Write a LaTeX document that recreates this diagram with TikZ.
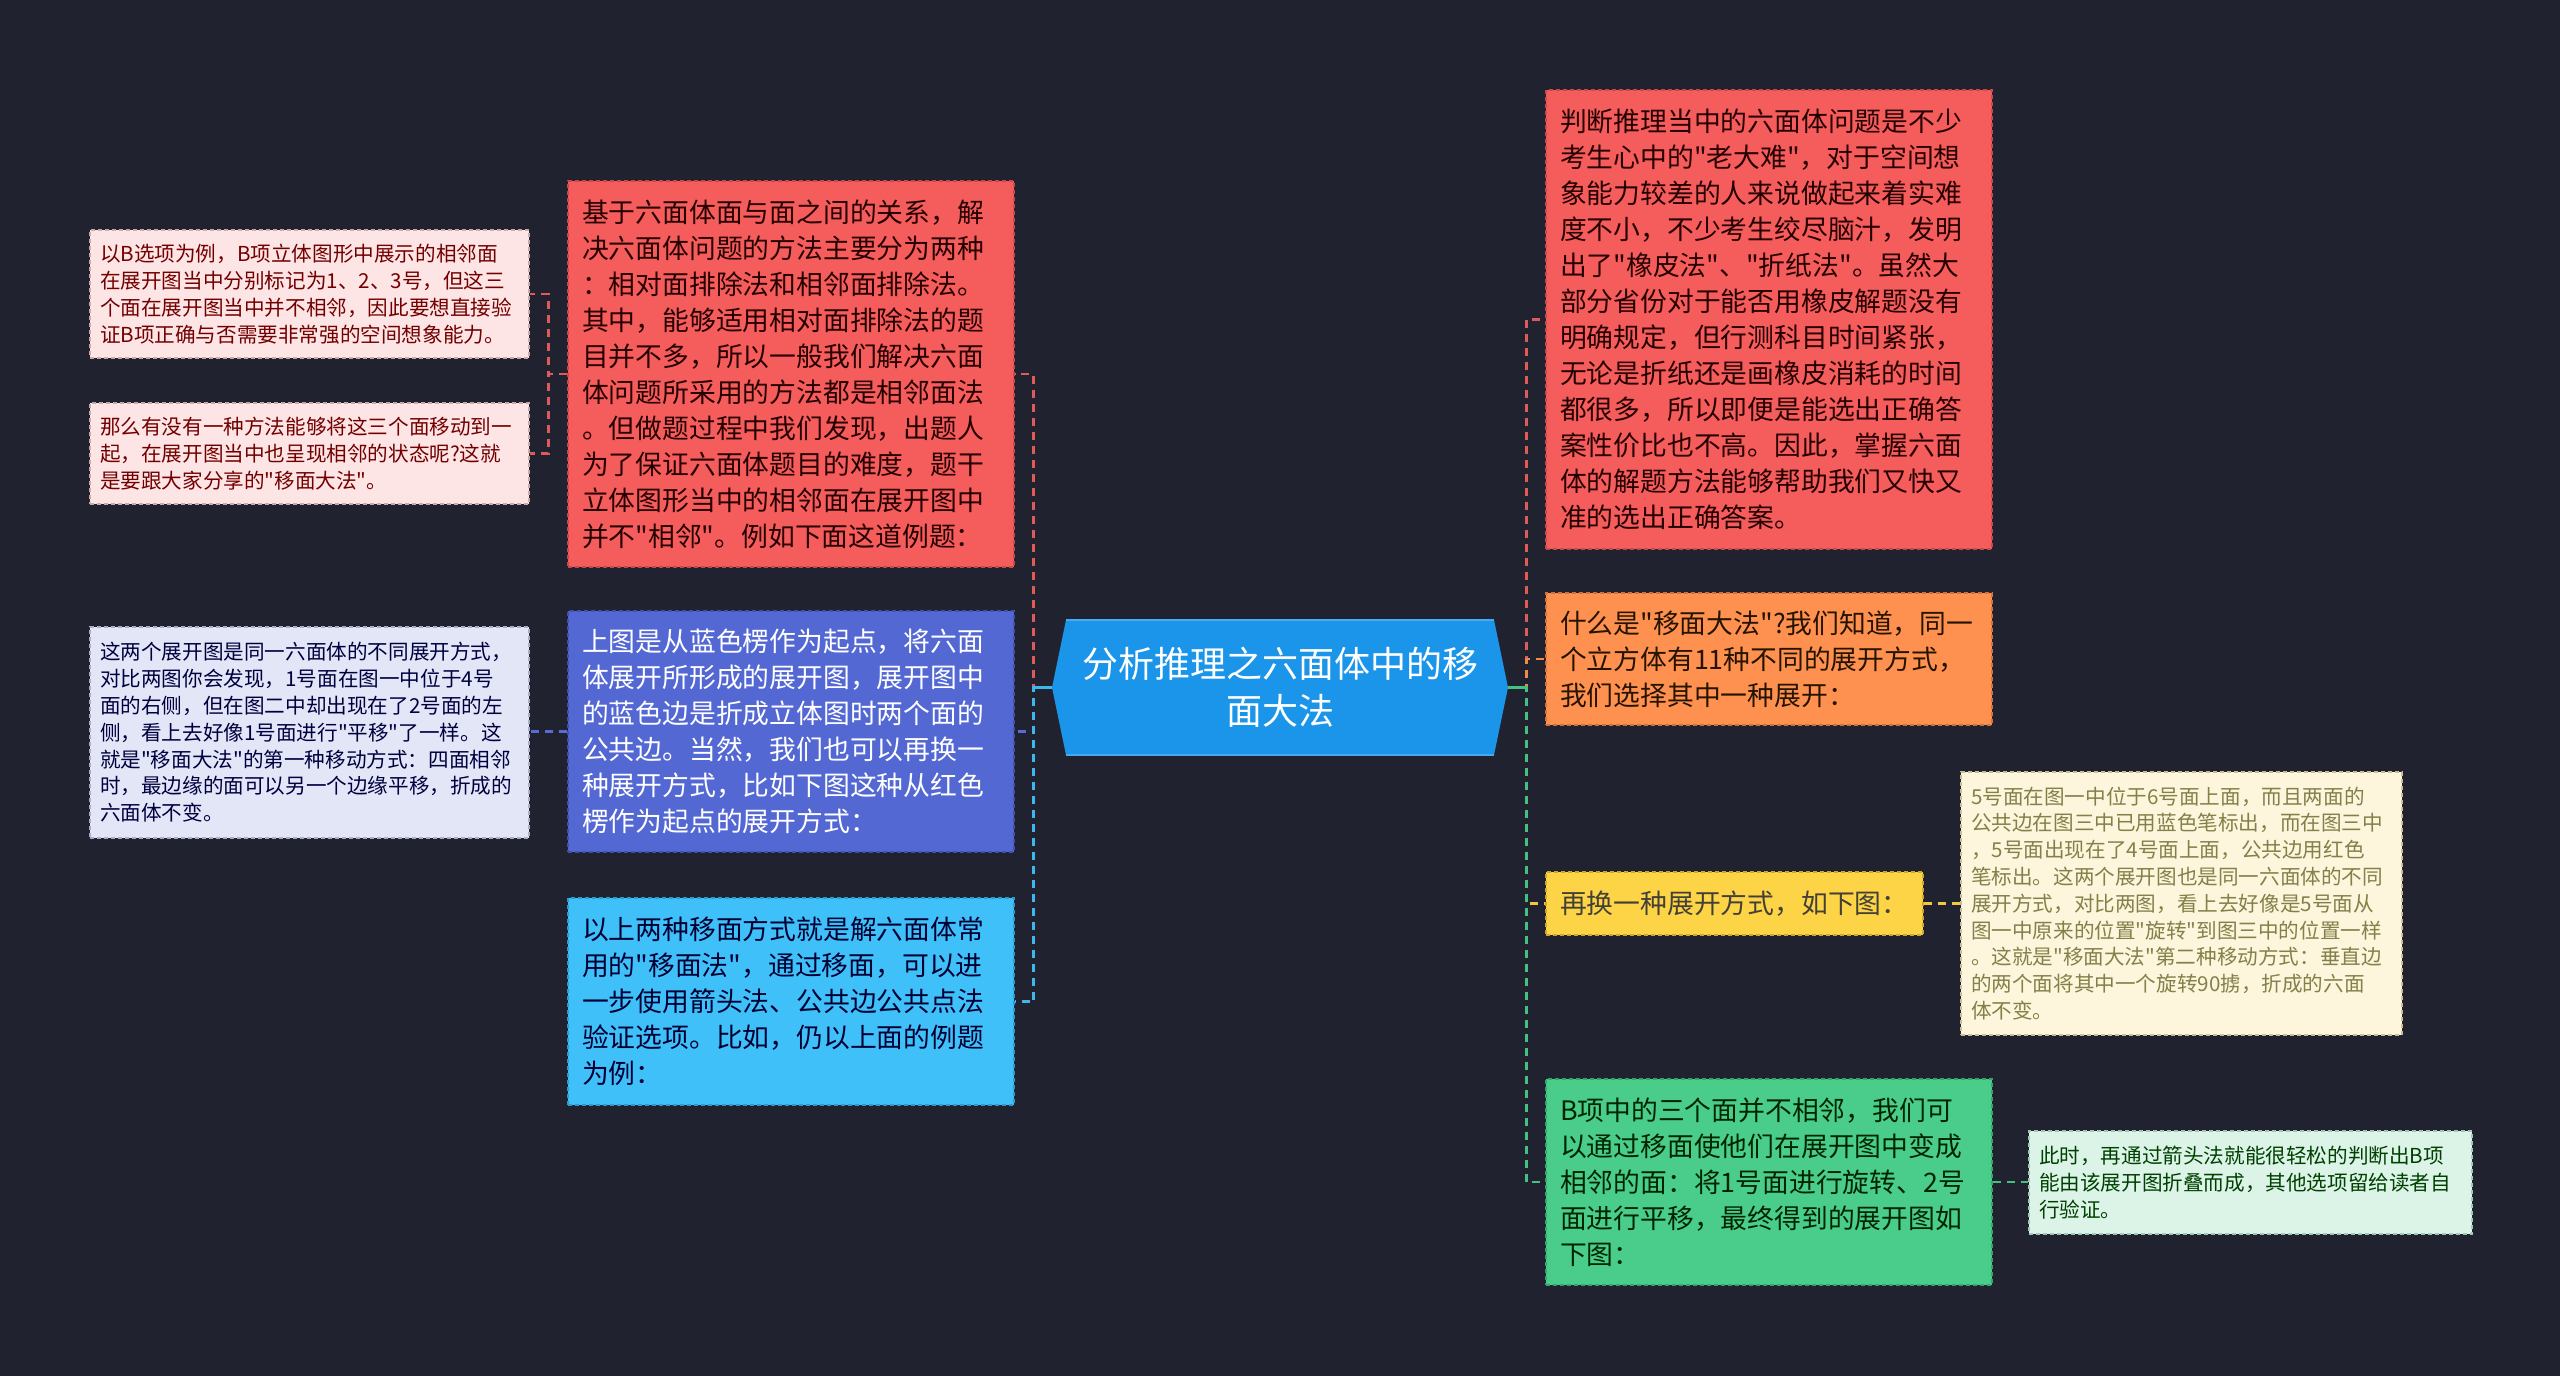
\documentclass[tikz,border=0pt]{standalone}
\usepackage{fontspec}
\setmainfont{Noto Sans CJK SC}[Ligatures=TeXOff]
\usetikzlibrary{calc}
\definecolor{bg}{HTML}{20232F}
\definecolor{cfill}{HTML}{1B95EA}
\definecolor{cedge}{HTML}{48AAF0}
\definecolor{redf}{HTML}{F55C5C}
\definecolor{rede}{HTML}{C94848}
\definecolor{bluef}{HTML}{5468D4}
\definecolor{bluee}{HTML}{3F50B0}
\definecolor{cyanf}{HTML}{3FC0F8}
\definecolor{cyane}{HTML}{2C9BD0}
\definecolor{orangef}{HTML}{FE9150}
\definecolor{orangee}{HTML}{D27238}
\definecolor{yellowf}{HTML}{FDD446}
\definecolor{yellowe}{HTML}{CFA82A}
\definecolor{greenf}{HTML}{4ACD8B}
\definecolor{greene}{HTML}{33A66C}
\definecolor{pinkf}{HTML}{FEE5E5}
\definecolor{pinke}{HTML}{C9A9A9}
\definecolor{lavf}{HTML}{E3E6F7}
\definecolor{lave}{HTML}{A9ADC6}
\definecolor{creamf}{HTML}{FDF6DC}
\definecolor{creame}{HTML}{C9BE96}
\definecolor{mintf}{HTML}{DCF4E8}
\definecolor{minte}{HTML}{A2C6B4}
\definecolor{credc}{HTML}{E05A5A}
\definecolor{cbluec}{HTML}{5B6BD6}
\definecolor{ccyanc}{HTML}{3EB8EA}
\definecolor{corangec}{HTML}{F08A48}
\definecolor{cyellowc}{HTML}{F2C840}
\definecolor{cgreenc}{HTML}{45C083}
\begin{document}
\begin{tikzpicture}[x=0.5pt,y=-0.5pt,
  box/.style={rectangle, draw, dashed, dash pattern=on 2pt off 1.5pt, line width=0.6pt,
    align=left, inner xsep=7pt, inner ysep=0pt, text width=209pt, minimum width=223pt,
    font=\fontsize{13.4}{18}\selectfont},
  leaf/.style={box, inner xsep=5pt, font=\fontsize{10.3}{13.4}\selectfont},
  conn/.style={dashed, dash pattern=on 4pt off 3pt, line width=1.2pt}]
\useasboundingbox (0,0) rectangle (2560,1376);
\fill[bg] (0,0) rectangle (2560,1376);
% central hexagon
\fill[cfill] (1052,687.5) -- (1066,620) -- (1494,620) -- (1508,687.5) -- (1494,755) -- (1066,755) -- cycle;
\draw[cedge, line width=1pt] (1066,620) -- (1494,620);
\draw[cedge, line width=1pt] (1066,755) -- (1494,755);
\node[text=white, align=center, minimum width=228pt, minimum height=67.5pt, inner sep=0pt,
  font=\fontsize{18}{23.5}\selectfont] (C) at (1280,687.5) {分析推理之六面体中的移\\面大法};
% left main boxes
\node[box, fill=redf, draw=rede, text=black!85!red, minimum height=193pt] (L1) at (791,374) {基于六面体面与面之间的关系，解\\决六面体问题的方法主要分为两种\\：相对面排除法和相邻面排除法。\\其中，能够适用相对面排除法的题\\目并不多，所以一般我们解决六面\\体问题所采用的方法都是相邻面法\\。但做题过程中我们发现，出题人\\为了保证六面体题目的难度，题干\\立体图形当中的相邻面在展开图中\\并不"相邻"。例如下面这道例题：};
\node[box, fill=bluef, draw=bluee, text=white, minimum height=120.5pt] (L2) at (791,731.5) {上图是从蓝色楞作为起点，将六面\\体展开所形成的展开图，展开图中\\的蓝色边是折成立体图时两个面的\\公共边。当然，我们也可以再换一\\种展开方式，比如下图这种从红色\\楞作为起点的展开方式：};
\node[box, fill=cyanf, draw=cyane, text=black!80!blue, minimum height=103.5pt] (L3) at (791,1001.5) {以上两种移面方式就是解六面体常\\用的"移面法"，通过移面，可以进\\一步使用箭头法、公共边公共点法\\验证选项。比如，仍以上面的例题\\为例：};
% left leaves
\node[leaf, fill=pinkf, draw=pinke, text=red!45!black, minimum width=219.5pt, text width=209.5pt, minimum height=64pt] (LL1) at (309.5,294) {以B选项为例，B项立体图形中展示的相邻面\\在展开图当中分别标记为1、2、3号，但这三\\个面在展开图当中并不相邻，因此要想直接验\\证B项正确与否需要非常强的空间想象能力。};
\node[leaf, fill=pinkf, draw=pinke, text=red!45!black, minimum width=219.5pt, text width=209.5pt, minimum height=50.5pt] (LL2) at (309.5,453.5) {那么有没有一种方法能够将这三个面移动到一\\起，在展开图当中也呈现相邻的状态呢?这就\\是要跟大家分享的"移面大法"。};
\node[leaf, fill=lavf, draw=lave, text=blue!25!black, minimum width=219.5pt, text width=209.5pt, minimum height=105.5pt] (LL3) at (309.5,732.5) {这两个展开图是同一六面体的不同展开方式，\\对比两图你会发现，1号面在图一中位于4号\\面的右侧，但在图二中却出现在了2号面的左\\侧，看上去好像1号面进行"平移"了一样。这\\就是"移面大法"的第一种移动方式：四面相邻\\时，最边缘的面可以另一个边缘平移，折成的\\六面体不变。};
% right main boxes
\node[box, fill=redf, draw=rede, text=black!85!red, minimum height=229.5pt] (R1) at (1769,319.5) {判断推理当中的六面体问题是不少\\考生心中的"老大难"，对于空间想\\象能力较差的人来说做起来着实难\\度不小，不少考生绞尽脑汁，发明\\出了"橡皮法"、"折纸法"。虽然大\\部分省份对于能否用橡皮解题没有\\明确规定，但行测科目时间紧张，\\无论是折纸还是画橡皮消耗的时间\\都很多，所以即便是能选出正确答\\案性价比也不高。因此，掌握六面\\体的解题方法能够帮助我们又快又\\准的选出正确答案。};
\node[box, fill=orangef, draw=orangee, text=black!85!orange, minimum height=66pt] (R2) at (1769,659) {什么是"移面大法"?我们知道，同一\\个立方体有11种不同的展开方式，\\我们选择其中一种展开：};
\node[box, fill=yellowf, draw=yellowe, text=black!85!yellow, minimum width=188.5pt, text width=174.5pt, minimum height=31.5pt] (R3) at (1734.5,903.5) {再换一种展开方式，如下图：};
\node[box, fill=greenf, draw=greene, text=black!85!green, minimum height=103pt] (R4) at (1769,1182) {B项中的三个面并不相邻，我们可\\以通过移面使他们在展开图中变成\\相邻的面：将1号面进行旋转、2号\\面进行平移，最终得到的展开图如\\下图：};
% right leaves
\node[leaf, fill=creamf, draw=creame, text=yellow!45!black, minimum width=220.5pt, text width=210.5pt, minimum height=131.5pt] (R3L) at (2181.5,903.5) {5号面在图一中位于6号面上面，而且两面的\\公共边在图三中已用蓝色笔标出，而在图三中\\，5号面出现在了4号面上面，公共边用红色\\笔标出。这两个展开图也是同一六面体的不同\\展开方式，对比两图，看上去好像是5号面从\\图一中原来的位置"旋转"到图三中的位置一样\\。这就是"移面大法"第二种移动方式：垂直边\\的两个面将其中一个旋转90掳，折成的六面\\体不变。};
\node[leaf, fill=mintf, draw=minte, text=green!25!black, minimum width=221.5pt, text width=211.5pt, minimum height=51.5pt] (R4L) at (2250.5,1182.5) {此时，再通过箭头法就能很轻松的判断出B项\\能由该展开图折叠而成，其他选项留给读者自\\行验证。};
% connectors left
\draw[conn, credc] (C.west) -- ++(-18,0) |- (L1.east);
\draw[conn, cbluec] (C.west) -- ++(-18,0) |- (L2.east);
\draw[conn, ccyanc] (C.west) -- ++(-18,0) |- (L3.east);
\draw[line width=1.2pt, ccyanc] (C.west) -- ++(-18,0);
\draw[conn, credc] (L1.west) -- ++(-19,0) |- (LL1.east);
\draw[conn, credc] (L1.west) -- ++(-19,0) |- (LL2.east);
\draw[conn, cbluec] (L2.west) -- (L2.west -| LL3.east);
% connectors right
\draw[conn, credc] (C.east) -- ++(18,0) |- (R1.west);
\draw[conn, corangec] (C.east) -- ++(18,0) |- (R2.west);
\draw[conn, cyellowc] (C.east) -- ++(18,0) |- (R3.west);
\draw[conn, cgreenc] (C.east) -- ++(18,0) |- (R4.west);
\draw[line width=1.2pt, cgreenc] (C.east) -- ++(18,0);
\draw[conn, cyellowc] (R3.east) -- (R3.east -| R3L.west);
\draw[conn, cgreenc] (R4.east) -- (R4.east -| R4L.west);
\end{tikzpicture}
\end{document}
